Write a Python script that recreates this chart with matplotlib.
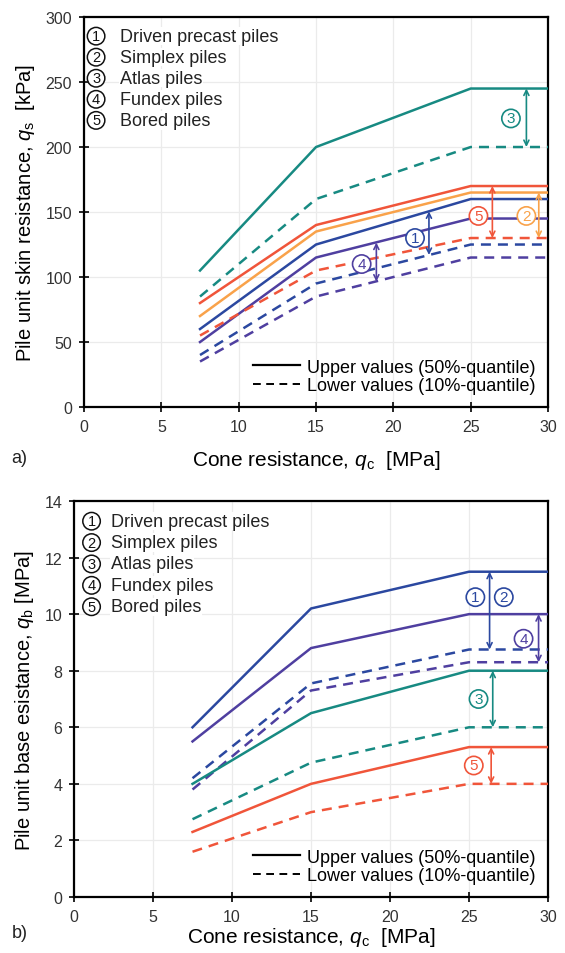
import matplotlib
matplotlib.use("Agg")
import matplotlib.pyplot as plt
from matplotlib.lines import Line2D

plt.rcParams['font.family'] = ['Liberation Sans', 'DejaVu Sans']
plt.rcParams['mathtext.fontset'] = 'custom'
plt.rcParams['mathtext.rm'] = 'Liberation Sans'
plt.rcParams['mathtext.it'] = 'Liberation Sans:italic'

# cone resistance break points [MPa]
qc = [7.5, 15, 25, 30]

pile_names = ["Driven precast piles", "Simplex piles", "Atlas piles",
              "Fundex piles", "Bored piles"]

# a) skin resistance [kPa]
qs_atlas_up = [105, 200, 245, 245]
qs_atlas_lo = [85, 160, 200, 200]
qs_bored_up = [80, 140, 170, 170]
qs_simplex_up = [70, 135, 165, 165]
qs_driven_up = [60, 125, 160, 160]
qs_fundex_up = [50, 115, 145, 145]
qs_bored_lo = [55, 105, 130, 130]
qs_driven_lo = [40, 95, 125, 125]
qs_fundex_lo = [35, 85, 115, 115]

# b) base resistance [MPa]
qb_driven_up = [6.0, 10.2, 11.5, 11.5]
qb_fundex_up = [5.5, 8.8, 10.0, 10.0]
qb_driven_lo = [4.2, 7.55, 8.75, 8.75]
qb_fundex_lo = [3.8, 7.3, 8.3, 8.3]
qb_atlas_up = [4.0, 6.5, 8.0, 8.0]
qb_atlas_lo = [2.75, 4.75, 6.0, 6.0]
qb_bored_up = [2.3, 4.0, 5.3, 5.3]
qb_bored_lo = [1.6, 3.0, 4.0, 4.0]

teal = '#178a82'
red = '#f0553a'
orange = '#f9a24a'
blue = '#2b48a0'
purple = '#4f3fa0'

fig = plt.figure(figsize=(5.65, 9.54), dpi=100)
ax1 = fig.add_axes([0.1487, 0.5723, 0.8213, 0.4088])
ax2 = fig.add_axes([0.131, 0.0587, 0.839, 0.4151])

dash = (0, (4.0, 2.8))


def style(ax, ymax, ystep):
    ax.set_xlim(0, 30)
    ax.set_ylim(0, ymax)
    ax.set_xticks(range(0, 31, 5))
    ax.set_yticks([ystep * i for i in range(int(ymax / ystep) + 1)])
    ax.grid(True, color='#ebebeb', lw=0.9, zorder=0)
    ax.tick_params(direction='inout', length=7, width=1.2, labelsize=11.5,
                   labelcolor='#333333', pad=5)
    for s in ax.spines.values():
        s.set_linewidth(1.6)


def arrow(ax, x, y0, y1, c):
    ax.annotate('', xy=(x, y0), xytext=(x, y1),
                arrowprops=dict(arrowstyle='<->', color=c, lw=1.2,
                                shrinkA=0, shrinkB=0, mutation_scale=9),
                zorder=4)


def num(ax, x, y, n, c, fs=11):
    ax.text(x, y, n, color=c, fontsize=fs, ha='center', va='center', zorder=5,
            bbox=dict(boxstyle='circle,pad=0.14', fc='white', ec=c, lw=1.2))


def names(ax, xc, xt, y0, dy):
    for i, nm in enumerate(pile_names):
        yy = y0 - i * dy
        ax.text(xc, yy, str(i + 1), transform=ax.transAxes, fontsize=10.5,
                ha='center', va='center', color='#111111', zorder=6,
                bbox=dict(boxstyle='circle,pad=0.12', fc='white', ec='#111111', lw=1.1))
        ax.text(xt, yy, nm, transform=ax.transAxes, fontsize=13,
                ha='left', va='center', color='#222222', zorder=6,
                bbox=dict(fc='white', ec='none', pad=0.5))


def line_legend(ax):
    h = [Line2D([], [], color='black', lw=1.6),
         Line2D([], [], color='black', lw=1.4, ls=dash)]
    ax.legend(h, ["Upper values (50%-quantile)", "Lower values (10%-quantile)"],
              loc='lower right', frameon=False, fontsize=13, handlelength=2.6,
              handletextpad=0.4, labelspacing=0.1, borderaxespad=0.3)


# ---- a) ----
style(ax1, 300, 50)
lw = 1.8
ax1.plot(qc, qs_atlas_up, color=teal, lw=lw, zorder=3)
ax1.plot(qc, qs_atlas_lo, color=teal, lw=lw, ls=dash, zorder=3)
ax1.plot(qc, qs_bored_up, color=red, lw=lw, zorder=3)
ax1.plot(qc, qs_simplex_up, color=orange, lw=lw, zorder=3)
ax1.plot(qc, qs_driven_up, color=blue, lw=lw, zorder=3)
ax1.plot(qc, qs_fundex_up, color=purple, lw=lw, zorder=3)
ax1.plot(qc, qs_bored_lo, color=red, lw=lw, ls=dash, zorder=3)
ax1.plot(qc, qs_driven_lo, color=blue, lw=lw, ls=dash, zorder=3)
ax1.plot(qc, qs_fundex_lo, color=purple, lw=lw, ls=dash, zorder=3)

arrow(ax1, 28.6, 245, 200, teal)
num(ax1, 27.6, 222, '3', teal)
arrow(ax1, 26.4, 170, 130, red)
num(ax1, 25.5, 147, '5', red)
arrow(ax1, 29.4, 165, 130, orange)
num(ax1, 28.6, 147, '2', orange)
arrow(ax1, 22.3, 150.5, 117, blue)
num(ax1, 21.4, 130, '1', blue)
arrow(ax1, 18.9, 126.5, 96.5, purple)
num(ax1, 17.95, 110, '4', purple)

names(ax1, 0.026, 0.078, 0.951, 0.054)
line_legend(ax1)
ax1.set_ylabel(r"Pile unit skin resistance, $q_\mathrm{s}$  [kPa]", fontsize=14.5, labelpad=6)
ax1.set_xlabel(r"Cone resistance, $q_\mathrm{c}$  [MPa]", fontsize=15, labelpad=10)
fig.text(0.02, 0.515, "a)", fontsize=13, color='#222222')

# ---- b) ----
style(ax2, 14, 2)
ax2.plot(qc, qb_driven_up, color=blue, lw=lw, zorder=3)
ax2.plot(qc, qb_fundex_up, color=purple, lw=lw, zorder=3)
ax2.plot(qc, qb_driven_lo, color=blue, lw=lw, ls=dash, zorder=3)
ax2.plot(qc, qb_fundex_lo, color=purple, lw=lw, ls=dash, zorder=3)
ax2.plot(qc, qb_atlas_up, color=teal, lw=lw, zorder=3)
ax2.plot(qc, qb_atlas_lo, color=teal, lw=lw, ls=dash, zorder=3)
ax2.plot(qc, qb_bored_up, color=red, lw=lw, zorder=3)
ax2.plot(qc, qb_bored_lo, color=red, lw=lw, ls=dash, zorder=3)

arrow(ax2, 26.3, 11.5, 8.75, blue)
num(ax2, 25.4, 10.6, '1', blue)
num(ax2, 27.2, 10.6, '2', blue)
arrow(ax2, 29.4, 10.0, 8.3, purple)
num(ax2, 28.45, 9.13, '4', purple)
arrow(ax2, 26.5, 8.0, 6.0, teal)
num(ax2, 25.6, 7.0, '3', teal)
arrow(ax2, 26.4, 5.3, 4.0, red)
num(ax2, 25.3, 4.65, '5', red)

names(ax2, 0.037, 0.078, 0.949, 0.054)
line_legend(ax2)
ax2.set_ylabel(r"Pile unit base esistance, $q_\mathrm{b}$ [MPa]", fontsize=14.5, labelpad=6)
ax2.set_xlabel(r"Cone resistance, $q_\mathrm{c}$  [MPa]", fontsize=15, labelpad=1)
fig.text(0.02, 0.017, "b)", fontsize=13, color='#222222')

fig.savefig("out.png", dpi=100)
